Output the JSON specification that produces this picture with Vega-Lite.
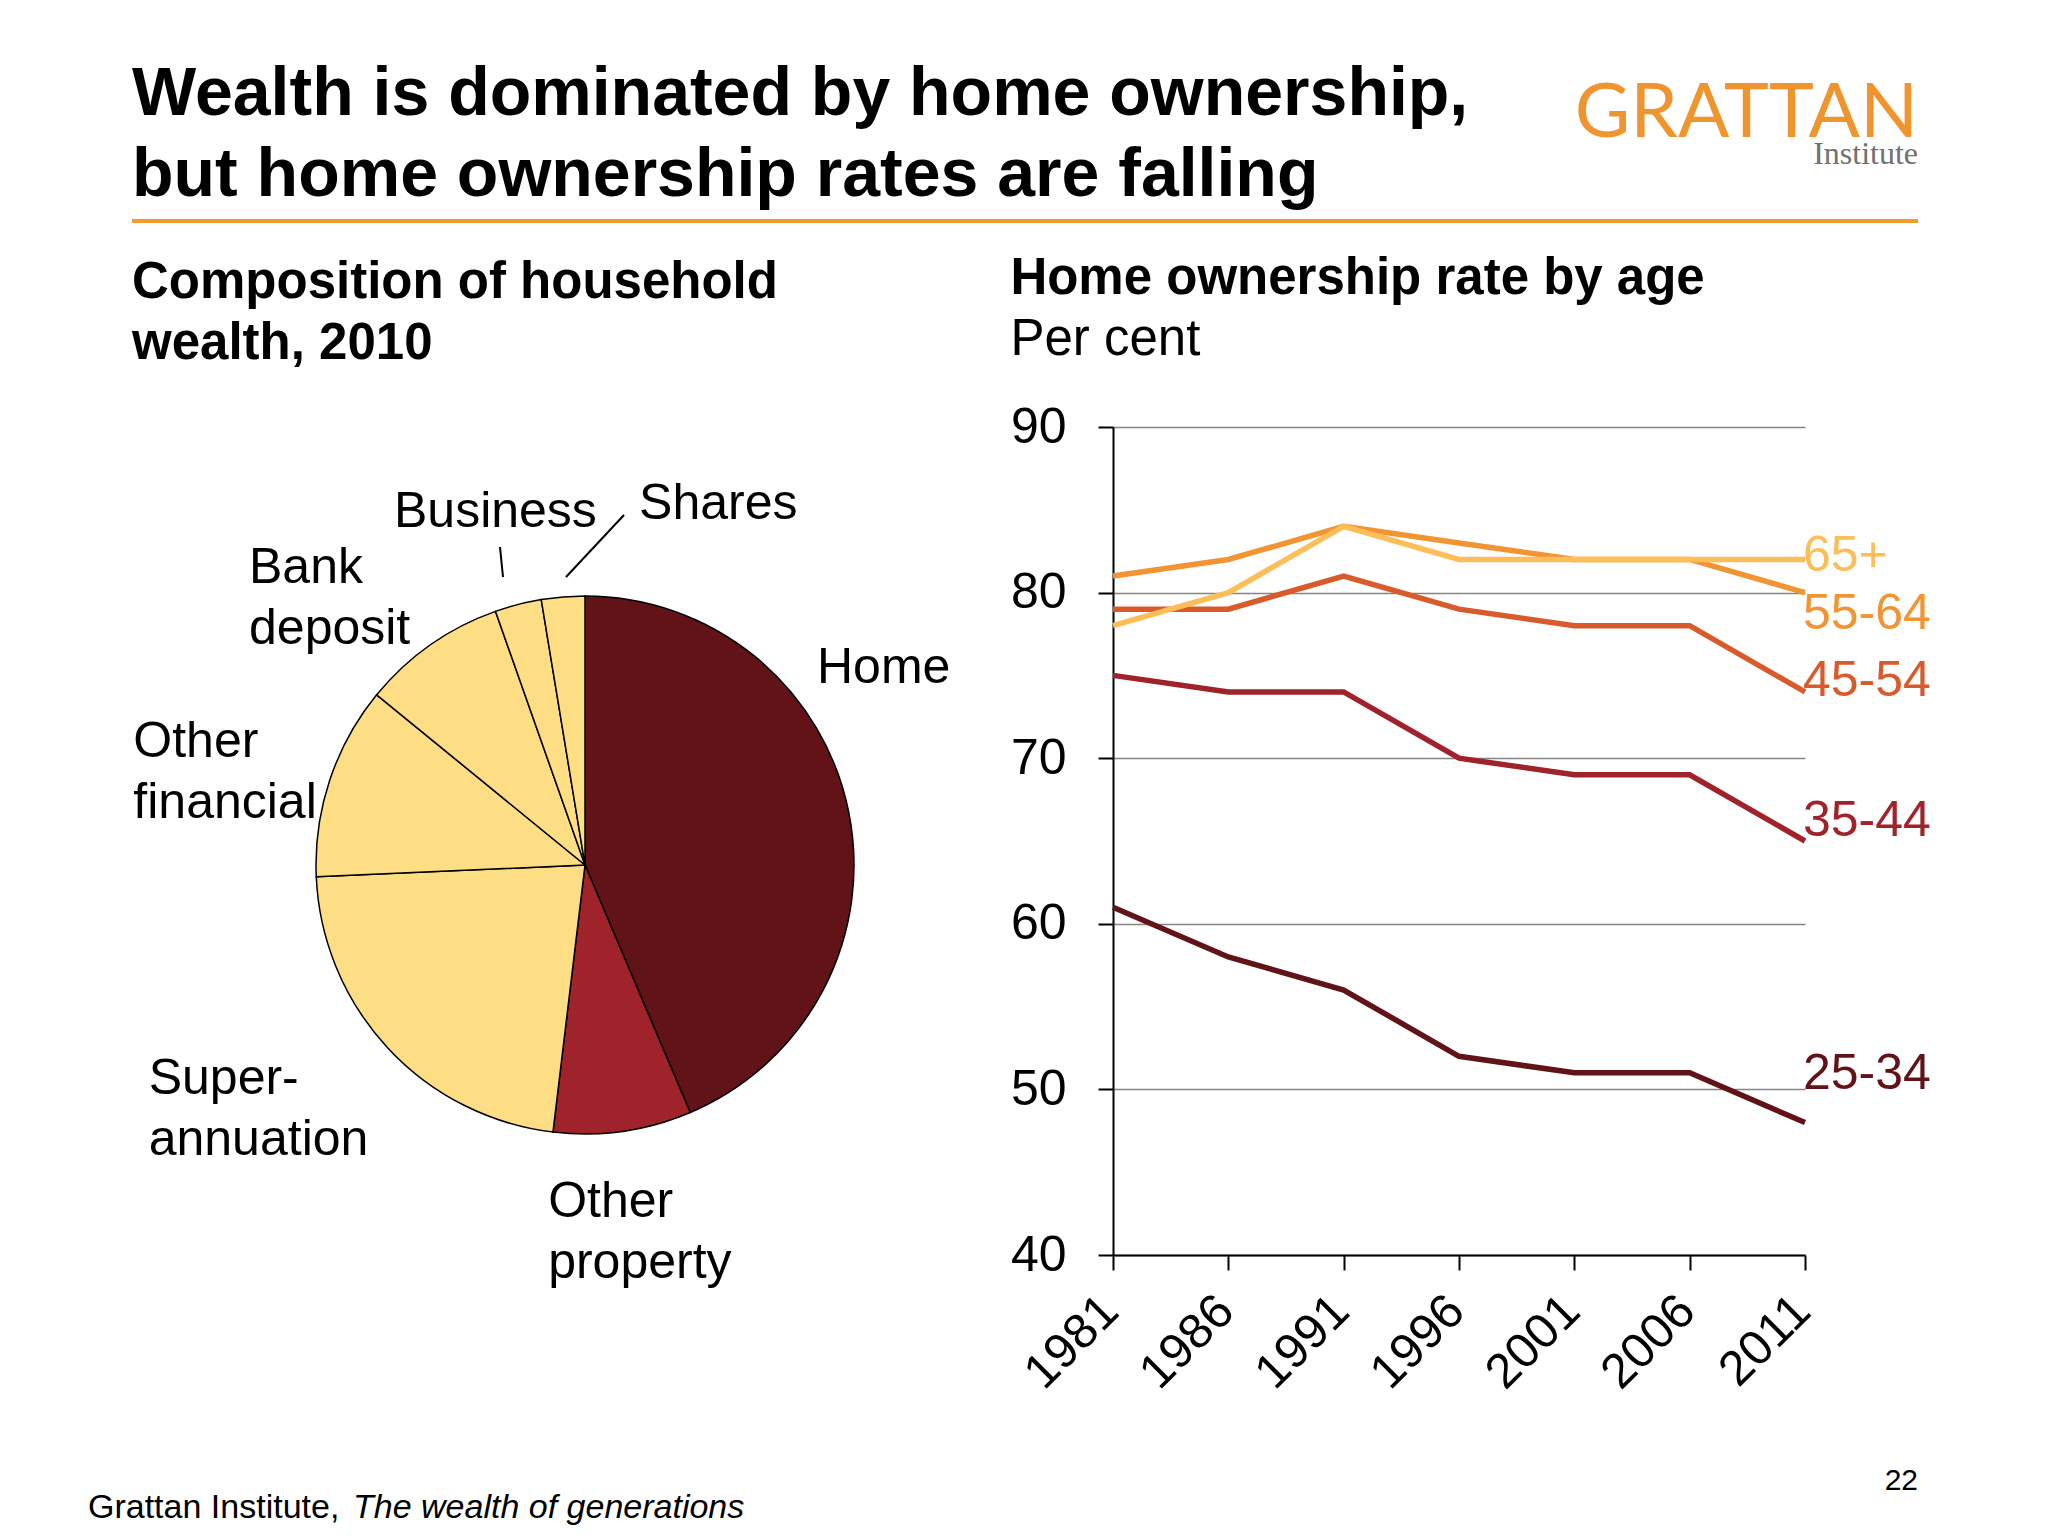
{
  "$schema": "https://vega.github.io/schema/vega-lite/v6.json",
  "background": "white",
  "padding": {"left": 87, "top": 0, "right": 0, "bottom": 0},
  "spacing": 28,
  "config": {
    "font": "Liberation Sans",
    "view": {"stroke": "transparent"},
    "title": {"font": "Liberation Sans", "color": "black", "subtitleFont": "Liberation Sans", "subtitleColor": "black"},
    "text": {"font": "Liberation Sans", "color": "black"}
  },
  "datasets": {
    "wealth": [
      {"category": "Home", "label": "Home", "share": 43.6, "order": 1},
      {"category": "Other property", "label": "Other\nproperty", "share": 8.3, "order": 2},
      {"category": "Superannuation", "label": "Super-\nannuation", "share": 22.4, "order": 3},
      {"category": "Other financial", "label": "Other\nfinancial", "share": 11.6, "order": 4},
      {"category": "Bank deposit", "label": "Bank\ndeposit", "share": 8.7, "order": 5},
      {"category": "Business", "label": "Business", "share": 2.8, "order": 6},
      {"category": "Shares", "label": "Shares", "share": 2.6, "order": 7}
    ],
    "ownership": [
      {"age": "25-34", "year": 1981, "rate": 61},
      {"age": "25-34", "year": 1986, "rate": 58},
      {"age": "25-34", "year": 1991, "rate": 56},
      {"age": "25-34", "year": 1996, "rate": 52},
      {"age": "25-34", "year": 2001, "rate": 51},
      {"age": "25-34", "year": 2006, "rate": 51},
      {"age": "25-34", "year": 2011, "rate": 48},
      {"age": "35-44", "year": 1981, "rate": 75},
      {"age": "35-44", "year": 1986, "rate": 74},
      {"age": "35-44", "year": 1991, "rate": 74},
      {"age": "35-44", "year": 1996, "rate": 70},
      {"age": "35-44", "year": 2001, "rate": 69},
      {"age": "35-44", "year": 2006, "rate": 69},
      {"age": "35-44", "year": 2011, "rate": 65},
      {"age": "45-54", "year": 1981, "rate": 79},
      {"age": "45-54", "year": 1986, "rate": 79},
      {"age": "45-54", "year": 1991, "rate": 81},
      {"age": "45-54", "year": 1996, "rate": 79},
      {"age": "45-54", "year": 2001, "rate": 78},
      {"age": "45-54", "year": 2006, "rate": 78},
      {"age": "45-54", "year": 2011, "rate": 74},
      {"age": "55-64", "year": 1981, "rate": 81},
      {"age": "55-64", "year": 1986, "rate": 82},
      {"age": "55-64", "year": 1991, "rate": 84},
      {"age": "55-64", "year": 1996, "rate": 83},
      {"age": "55-64", "year": 2001, "rate": 82},
      {"age": "55-64", "year": 2006, "rate": 82},
      {"age": "55-64", "year": 2011, "rate": 80},
      {"age": "65+", "year": 1981, "rate": 78},
      {"age": "65+", "year": 1986, "rate": 80},
      {"age": "65+", "year": 1991, "rate": 84},
      {"age": "65+", "year": 1996, "rate": 82},
      {"age": "65+", "year": 2001, "rate": 82},
      {"age": "65+", "year": 2006, "rate": 82},
      {"age": "65+", "year": 2011, "rate": 82}
    ]
  },
  "resolve": {"scale": {"color": "independent", "x": "independent", "y": "independent"}},
  "vconcat": [
    {
      "width": 1786,
      "height": 220,
      "data": {"values": [{}]},
      "encoding": {
        "x": {"datum": 0, "type": "quantitative", "scale": {"domain": [0, 1]}, "axis": null},
        "y": {"datum": 0, "type": "quantitative", "scale": {"domain": [0, 1]}, "axis": null}
      },
      "layer": [
        {
          "mark": {"type": "rule", "color": "#F39A2E", "strokeWidth": 4},
          "encoding": {"x2": {"datum": 1}}
        },
        {
          "mark": {"type": "text", "text": ["Wealth is dominated by home ownership,", "but home ownership rates are falling"], "align": "left", "baseline": "top", "fontSize": 68, "fontWeight": "bold", "lineHeight": 81},
          "encoding": {"y": {"datum": 0.7273, "type": "quantitative"}}
        },
        {
          "mark": {"type": "text", "text": "GRATTAN", "align": "right", "baseline": "alphabetic", "font": "Lato", "fontSize": 76, "color": "#F0952E"},
          "encoding": {"x": {"datum": 1, "type": "quantitative"}, "y": {"datum": 0.382, "type": "quantitative"}}
        },
        {
          "mark": {"type": "text", "text": "Institute", "align": "right", "baseline": "alphabetic", "font": "Liberation Serif", "fontSize": 32, "color": "#707070"},
          "encoding": {"x": {"datum": 1, "type": "quantitative"}, "y": {"datum": 0.2591, "type": "quantitative"}}
        }
      ]
    },
    {
      "spacing": 46,
      "resolve": {"scale": {"color": "independent", "x": "independent", "y": "independent", "theta": "independent"}},
      "hconcat": [
        {
          "width": 830,
          "height": 828,
          "title": {"text": ["Composition of household", "wealth, 2010"], "anchor": "start", "frame": "bounds", "fontSize": 51, "fontWeight": "bold", "lineHeight": 61, "offset": 57},
          "data": {"name": "wealth"},
          "encoding": {
            "x": {"datum": 0, "type": "quantitative", "scale": {"domain": [-453, 377]}, "axis": null},
            "y": {"datum": 0, "type": "quantitative", "scale": {"domain": [-390, 438]}, "axis": null}
          },
          "layer": [
            {
              "mark": {"type": "arc", "outerRadius": 269, "stroke": "black", "strokeWidth": 1.5},
              "encoding": {
                "theta": {"field": "share", "type": "quantitative", "stack": true, "scale": {"domain": [0, 100]}},
                "order": {"field": "order", "type": "quantitative"},
                "color": {"field": "category", "type": "nominal", "legend": null,
                  "scale": {"domain": ["Home", "Other property", "Superannuation", "Other financial", "Bank deposit", "Business", "Shares"],
                            "range": ["#621318", "#A0222A", "#FDDE85", "#FDDE85", "#FDDE85", "#FDDE85", "#FDDE85"]}}
              }
            },
            {
              "transform": [
                {"stack": "share", "groupby": [], "sort": [{"field": "order", "order": "ascending"}], "as": ["s0", "s1"]},
                {"filter": "datum.category === 'Home'"}
              ],
              "mark": {"type": "text", "radius": 330, "align": "left", "baseline": "top", "fontSize": 50, "lineHeight": 61, "lineBreak": "\n", "dx": 232, "dy": 107.5},
              "encoding": {
                "theta": {"field": "s0", "type": "quantitative", "stack": null, "scale": {"domain": [0, 100]}},
                "text": {"field": "label"}
              }
            },
            {
              "transform": [
                {"stack": "share", "groupby": [], "sort": [{"field": "order", "order": "ascending"}], "as": ["s0", "s1"]},
                {"filter": "datum.category === 'Other property'"}
              ],
              "mark": {"type": "text", "radius": 330, "align": "left", "baseline": "top", "fontSize": 50, "lineHeight": 61, "lineBreak": "\n", "dx": -166, "dy": 8},
              "encoding": {
                "theta": {"field": "s0", "type": "quantitative", "stack": null, "scale": {"domain": [0, 100]}},
                "text": {"field": "label"}
              }
            },
            {
              "transform": [
                {"stack": "share", "groupby": [], "sort": [{"field": "order", "order": "ascending"}], "as": ["s0", "s1"]},
                {"filter": "datum.category === 'Superannuation'"}
              ],
              "mark": {"type": "text", "radius": 330, "align": "left", "baseline": "top", "fontSize": 50, "lineHeight": 61, "lineBreak": "\n", "dx": -397, "dy": -139},
              "encoding": {
                "theta": {"field": "s0", "type": "quantitative", "stack": null, "scale": {"domain": [0, 100]}},
                "text": {"field": "label"}
              }
            },
            {
              "transform": [
                {"stack": "share", "groupby": [], "sort": [{"field": "order", "order": "ascending"}], "as": ["s0", "s1"]},
                {"filter": "datum.category === 'Other financial'"}
              ],
              "mark": {"type": "text", "radius": 330, "align": "left", "baseline": "top", "fontSize": 50, "lineHeight": 61, "lineBreak": "\n", "dx": -122, "dy": -163},
              "encoding": {
                "theta": {"field": "s0", "type": "quantitative", "stack": null, "scale": {"domain": [0, 100]}},
                "text": {"field": "label"}
              }
            },
            {
              "transform": [
                {"stack": "share", "groupby": [], "sort": [{"field": "order", "order": "ascending"}], "as": ["s0", "s1"]},
                {"filter": "datum.category === 'Bank deposit'"}
              ],
              "mark": {"type": "text", "radius": 330, "align": "left", "baseline": "top", "fontSize": 50, "lineHeight": 61, "lineBreak": "\n", "dx": -80.4, "dy": -112.8},
              "encoding": {
                "theta": {"field": "s0", "type": "quantitative", "stack": null, "scale": {"domain": [0, 100]}},
                "text": {"field": "label"}
              }
            },
            {
              "transform": [
                {"stack": "share", "groupby": [], "sort": [{"field": "order", "order": "ascending"}], "as": ["s0", "s1"]},
                {"filter": "datum.category === 'Business'"}
              ],
              "mark": {"type": "text", "radius": 330, "align": "left", "baseline": "top", "fontSize": 50, "lineHeight": 61, "lineBreak": "\n", "dx": -81.2, "dy": -67.3},
              "encoding": {
                "theta": {"field": "s0", "type": "quantitative", "stack": null, "scale": {"domain": [0, 100]}},
                "text": {"field": "label"}
              }
            },
            {
              "transform": [
                {"stack": "share", "groupby": [], "sort": [{"field": "order", "order": "ascending"}], "as": ["s0", "s1"]},
                {"filter": "datum.category === 'Shares'"}
              ],
              "mark": {"type": "text", "radius": 330, "align": "left", "baseline": "top", "fontSize": 50, "lineHeight": 61, "lineBreak": "\n", "dx": 107.7, "dy": -59.9},
              "encoding": {
                "theta": {"field": "s0", "type": "quantitative", "stack": null, "scale": {"domain": [0, 100]}},
                "text": {"field": "label"}
              }
            },
            {
              "data": {"values": [{}]},
              "mark": {"type": "rule", "color": "black", "strokeWidth": 2},
              "encoding": {
                "x": {"datum": -85, "type": "quantitative"},
                "y": {"datum": 318, "type": "quantitative"},
                "x2": {"datum": -82},
                "y2": {"datum": 288}
              }
            },
            {
              "data": {"values": [{}]},
              "mark": {"type": "rule", "color": "black", "strokeWidth": 2},
              "encoding": {
                "x": {"datum": 39, "type": "quantitative"},
                "y": {"datum": 350, "type": "quantitative"},
                "x2": {"datum": -19},
                "y2": {"datum": 288}
              }
            }
          ]
        },
        {
          "width": 692,
          "height": 828,
          "title": {"text": "Home ownership rate by age", "subtitle": "Per cent", "anchor": "start", "frame": "bounds", "fontSize": 51, "fontWeight": "bold", "subtitleFontSize": 51, "subtitleFontWeight": "normal", "subtitlePadding": 10, "offset": 36},
          "data": {"name": "ownership"},
          "encoding": {
            "x": {"field": "year", "type": "ordinal", "scale": {"type": "point", "padding": 0},
              "axis": {"title": null, "labelAngle": -45, "labelFontSize": 49, "labelColor": "black", "tickColor": "black", "tickWidth": 2, "tickSize": 15, "domainColor": "black", "domainWidth": 2, "grid": false, "labelPadding": 16, "labelOffset": -20}},
            "y": {"field": "rate", "type": "quantitative", "scale": {"domain": [40, 90]},
              "axis": {"title": null, "values": [40, 50, 60, 70, 80, 90], "labelFontSize": 50, "labelColor": "black", "tickColor": "black", "tickWidth": 2, "tickSize": 15, "domainColor": "black", "domainWidth": 2, "grid": true, "gridColor": "#858585", "gridWidth": 1.5, "labelPadding": 32}},
            "color": {"field": "age", "type": "nominal", "legend": null,
              "scale": {"domain": ["25-34", "35-44", "45-54", "55-64", "65+"], "range": ["#621318", "#A0222A", "#D95B2B", "#F39433", "#FDBD57"]}}
          },
          "layer": [
            {"mark": {"type": "line", "strokeWidth": 5.5}},
            {
              "transform": [{"filter": "datum.year == 2011 && datum.age == '65+'"}],
              "mark": {"type": "text", "align": "left", "baseline": "alphabetic", "fontSize": 50, "dx": -2, "dy": 11.5},
              "encoding": {"text": {"field": "age"}}
            },
            {
              "transform": [{"filter": "datum.year == 2011 && datum.age == '55-64'"}],
              "mark": {"type": "text", "align": "left", "baseline": "alphabetic", "fontSize": 50, "dx": -2, "dy": 36},
              "encoding": {"text": {"field": "age"}}
            },
            {
              "transform": [{"filter": "datum.year == 2011 && datum.age == '45-54'"}],
              "mark": {"type": "text", "align": "left", "baseline": "alphabetic", "fontSize": 50, "dx": -2, "dy": 4},
              "encoding": {"text": {"field": "age"}}
            },
            {
              "transform": [{"filter": "datum.year == 2011 && datum.age == '35-44'"}],
              "mark": {"type": "text", "align": "left", "baseline": "alphabetic", "fontSize": 50, "dx": -2, "dy": -5},
              "encoding": {"text": {"field": "age"}}
            },
            {
              "transform": [{"filter": "datum.year == 2011 && datum.age == '25-34'"}],
              "mark": {"type": "text", "align": "left", "baseline": "alphabetic", "fontSize": 50, "dx": -2, "dy": -34},
              "encoding": {"text": {"field": "age"}}
            }
          ]
        }
      ]
    },
    {
      "width": 1786,
      "height": 105,
      "data": {"values": [{}]},
      "encoding": {
        "x": {"datum": 0, "type": "quantitative", "scale": {"domain": [0, 1]}, "axis": null},
        "y": {"datum": 0, "type": "quantitative", "scale": {"domain": [0, 1]}, "axis": null}
      },
      "layer": [
        {
          "mark": {"type": "text", "text": "Grattan Institute, ", "align": "left", "baseline": "alphabetic", "fontSize": 34, "dx": -44, "dy": -15}
        },
        {
          "mark": {"type": "text", "text": "The wealth of generations", "align": "left", "baseline": "alphabetic", "fontSize": 34, "fontStyle": "italic", "dx": 221, "dy": -15}
        },
        {
          "mark": {"type": "text", "text": "22", "align": "right", "baseline": "alphabetic", "fontSize": 30},
          "encoding": {"x": {"datum": 1, "type": "quantitative"}, "y": {"datum": 0.414, "type": "quantitative"}}
        }
      ]
    }
  ]
}
